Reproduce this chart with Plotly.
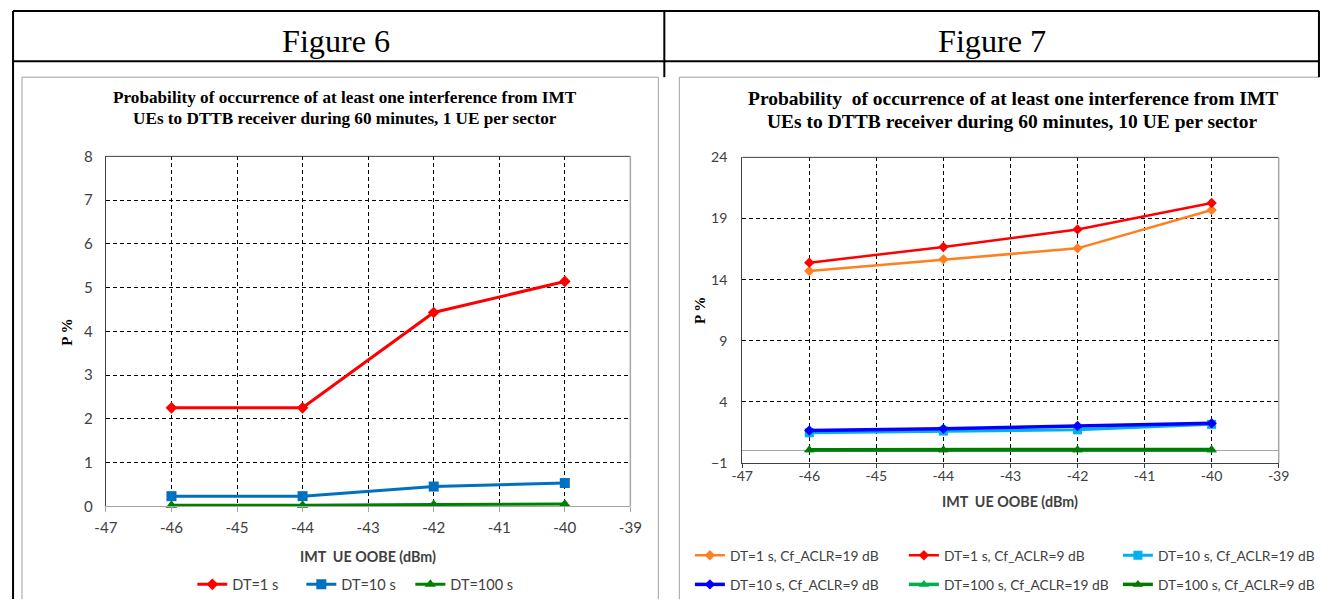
import plotly.graph_objects as go

W, H = 1332, 608
# measured page -> picture mapping of the photographed page (scale + offset)
SX, OX = 0.983, 10.0
SY, OY = 0.968, 10.0


def PX(x):
    return min(max(((x - OX) / SX) / W, 0.0008), 0.9992)


def PY(y):
    return min(max(1 - ((y - OY) / SY) / H, 0.0015), 0.9985)


def FS(s):
    return round(s / 0.978, 1)


# ---------------- data ----------------
oobe_dbm = [-46, -44, -42, -40]

fig6_names = ["DT=1 s", "DT=10 s", "DT=100 s"]
fig6_dt1 = [2.25, 2.25, 4.43, 5.14]
fig6_dt10 = [0.23, 0.23, 0.45, 0.53]
fig6_dt100 = [0.02, 0.02, 0.04, 0.05]

fig7_names = ["DT=1 s, Cf_ACLR=19 dB", "DT=1 s, Cf_ACLR=9 dB", "DT=10 s, Cf_ACLR=19 dB",
              "DT=10 s, Cf_ACLR=9 dB", "DT=100 s, Cf_ACLR=19 dB", "DT=100 s, Cf_ACLR=9 dB"]
fig7_dt1_19 = [14.71, 15.66, 16.56, 19.69]
fig7_dt1_9 = [15.39, 16.67, 18.11, 20.27]
fig7_dt10_19 = [1.48, 1.62, 1.72, 2.17]
fig7_dt10_9 = [1.67, 1.80, 2.03, 2.25]
fig7_dt100_19 = [0.05, 0.05, 0.05, 0.06]
fig7_dt100_9 = [0.10, 0.10, 0.10, 0.12]

fig6_yticks = [0, 1, 2, 3, 4, 5, 6, 7, 8]
fig7_yticks = [-1, 4, 9, 14, 19, 24]
x_ticks = [-47, -46, -45, -44, -43, -42, -41, -40, -39]

header_texts = ["Figure 6", "Figure 7"]
fig6_title = ["Probability of occurrence of at least one interference from IMT",
              "UEs to DTTB receiver during 60 minutes, 1 UE per sector"]
fig7_title = ["Probability  of occurrence of at least one interference from IMT",
              "UEs to DTTB receiver during 60 minutes, 10 UE per sector"]
x_title = "IMT  UE OOBE (dBm)"
y_title = "P %"

# ---------------- styling ----------------
SANS = "Lato, 'Open Sans', sans-serif"
SERIF = "'Liberation Serif', 'Times New Roman', serif"
TXT = "#404040"
GRID_DASH = "4px,3px"

fig = go.Figure()

fig6_styles = [
    dict(color="#FF0000", symbol="diamond", size=9, width=3),
    dict(color="#0070C0", symbol="square", size=10, width=3),
    dict(color="#008000", symbol="triangle-up", size=10, width=3),
]
for name, vals, st in zip(fig6_names, [fig6_dt1, fig6_dt10, fig6_dt100], fig6_styles):
    fig.add_trace(go.Scatter(
        x=oobe_dbm, y=vals, name=name, mode="lines+markers",
        line=dict(color=st["color"], width=st["width"]),
        marker=dict(symbol=st["symbol"], size=st["size"], color=st["color"]),
        xaxis="x", yaxis="y", legend="legend", cliponaxis=False,
    ))

fig7_vals = [fig7_dt1_19, fig7_dt1_9, fig7_dt10_19, fig7_dt10_9, fig7_dt100_19, fig7_dt100_9]
fig7_styles = [
    dict(color="#FF8020", symbol="diamond", size=8, width=2.5, leg="legend2"),
    dict(color="#FF0000", symbol="diamond", size=8, width=2.5, leg="legend2"),
    dict(color="#00B0F0", symbol="square", size=9, width=3, leg="legend2"),
    dict(color="#0000FF", symbol="diamond", size=8, width=3.5, leg="legend3"),
    dict(color="#00B050", symbol="triangle-up", size=9, width=3.5, leg="legend3"),
    dict(color="#007A00", symbol="triangle-up", size=9, width=3.5, leg="legend3"),
]
for name, vals, st in zip(fig7_names, fig7_vals, fig7_styles):
    fig.add_trace(go.Scatter(
        x=oobe_dbm, y=vals, name=name, mode="lines+markers",
        line=dict(color=st["color"], width=st["width"]),
        marker=dict(symbol=st["symbol"], size=st["size"], color=st["color"]),
        xaxis="x2", yaxis="y2", legend=st["leg"], cliponaxis=False,
    ))

common_x = dict(
    range=[-47, -39], tickmode="array", tickvals=x_ticks,
    ticktext=[str(v) for v in x_ticks],
    showgrid=True, gridcolor="#000000", griddash=GRID_DASH, gridwidth=1,
    showline=True, ticks="outside", zeroline=False, fixedrange=True,
)
common_y = dict(
    showgrid=True, gridcolor="#000000", griddash=GRID_DASH, gridwidth=1,
    showline=True, linecolor="#404040", linewidth=1, ticks="",
    zeroline=True, zerolinecolor="#A6A6A6", zerolinewidth=1, fixedrange=True,
)

fig.update_layout(
    width=W, height=H, autosize=False,
    margin=dict(l=0, r=0, t=0, b=0, pad=0),
    paper_bgcolor="white", plot_bgcolor="white",
    showlegend=True,
    xaxis=dict(common_x, domain=[PX(104), PX(629)], anchor="y",
               linecolor="#A6A6A6", tickcolor="#A6A6A6", ticklen=5,
               tickfont=dict(family=SANS, size=FS(14.8), color=TXT), ticklabelstandoff=3),
    yaxis=dict(common_y, domain=[PY(505), PY(156)], anchor="x", range=[0, 8],
               tickmode="array", tickvals=fig6_yticks,
               tickfont=dict(family=SANS, size=FS(14.8), color=TXT), ticklabelstandoff=9),
    xaxis2=dict(common_x, domain=[PX(741), PX(1278)], anchor="y2",
                linecolor="#404040", tickcolor="#404040", ticklen=4,
                tickfont=dict(family=SANS, size=FS(13.8), color=TXT), ticklabelstandoff=-4),
    yaxis2=dict(common_y, domain=[PY(462), PY(157)], anchor="x2", range=[-1, 24],
                tickmode="array", tickvals=fig7_yticks,
                tickfont=dict(family=SANS, size=FS(13.8), color=TXT), ticklabelstandoff=11),
    legend=dict(orientation="h", x=((198 - OX) / SX - 7.6) / W, xanchor="left",
                y=PY(583), yanchor="middle",
                font=dict(family=SANS, size=FS(14.2), color=TXT), bgcolor="rgba(0,0,0,0)",
                itemwidth=30, entrywidth=64, entrywidthmode="pixels", traceorder="normal"),
    legend2=dict(orientation="h", x=((695 - OX) / SX - 6.5) / W, xanchor="left",
                 y=PY(554), yanchor="middle",
                 font=dict(family=SANS, size=FS(13.5), color=TXT), bgcolor="rgba(0,0,0,0)",
                 itemwidth=30, entrywidth=169, entrywidthmode="pixels", traceorder="normal"),
    legend3=dict(orientation="h", x=((695 - OX) / SX - 6.5) / W, xanchor="left",
                 y=PY(583), yanchor="middle",
                 font=dict(family=SANS, size=FS(13.5), color=TXT), bgcolor="rgba(0,0,0,0)",
                 itemwidth=30, entrywidth=169, entrywidthmode="pixels", traceorder="normal"),
)

shapes = []
TL = dict(color="black", width=2)
for (x0, y0, x1, y1) in [(5, 7, 1320, 7), (5, 61, 1320, 61), (5, 7, 5, 608),
                         (663, 7, 663, 77), (1320, 7, 1320, 77)]:
    shapes.append(dict(type="line", xref="paper", yref="paper",
                       x0=PX(x0), y0=PY(y0), x1=PX(x1), y1=PY(y1), line=TL, layer="above"))
GR = dict(color="#A0A0A0", width=1)
for (x0, y0, x1, y1) in [(20, 77, 20, 608), (20, 77, 657, 77), (657, 77, 657, 608),
                         (678, 77, 678, 608), (678, 77, 1332, 77)]:
    shapes.append(dict(type="line", xref="paper", yref="paper",
                       x0=PX(x0), y0=PY(y0), x1=PX(x1), y1=PY(y1), line=GR, layer="below"))
for xr, yr in [("x", "y"), ("x2", "y2")]:
    shapes.append(dict(type="line", xref=xr + " domain", yref=yr + " domain",
                       x0=0, x1=1, y0=1, y1=1, line=dict(color="#404040", width=1)))
    shapes.append(dict(type="line", xref=xr + " domain", yref=yr + " domain",
                       x0=1, x1=1, y0=0, y1=1, line=dict(color="#A6A6A6", width=1.5)))
fig.update_layout(shapes=shapes)

ann = []
for t, cx in zip(header_texts, [334, 991]):
    ann.append(dict(text=t, x=PX(cx), y=PY(41), xref="paper", yref="paper",
                    xanchor="center", yanchor="middle", showarrow=False,
                    font=dict(family=SERIF, size=FS(31.5), color="black")))
for lines, cx, ys, fs in [(fig6_title, 343, [97, 118.5], 16.8), (fig7_title, 1012, [98.5, 121.5], 19.1)]:
    for t, yy in zip(lines, ys):
        ann.append(dict(text="<b>" + t + "</b>", x=PX(cx), y=PY(yy), xref="paper", yref="paper",
                        xanchor="center", yanchor="middle", showarrow=False,
                        font=dict(family=SERIF, size=FS(fs), color="black")))
for cx, cy in [(366, 555), (1009, 500)]:
    ann.append(dict(text="<b>" + x_title + "</b>", x=PX(cx), y=PY(cy), xref="paper", yref="paper",
                    xanchor="center", yanchor="middle", showarrow=False,
                    font=dict(family=SANS, size=FS(14), color=TXT)))
for cx, cy in [(65, 331), (698, 310)]:
    ann.append(dict(text="<b>" + y_title + "</b>", x=PX(cx), y=PY(cy), xref="paper", yref="paper",
                    xanchor="center", yanchor="middle", showarrow=False, textangle=-90,
                    font=dict(family=SERIF, size=FS(14.8), color="black")))
fig.update_layout(annotations=ann)

fig.write_html(
    "out.html",
    config={"displayModeBar": False},
    post_script="document.documentElement.style.margin='0';document.body.style.margin='0';"
                "document.documentElement.style.overflow='hidden';document.body.style.overflow='hidden';",
)
